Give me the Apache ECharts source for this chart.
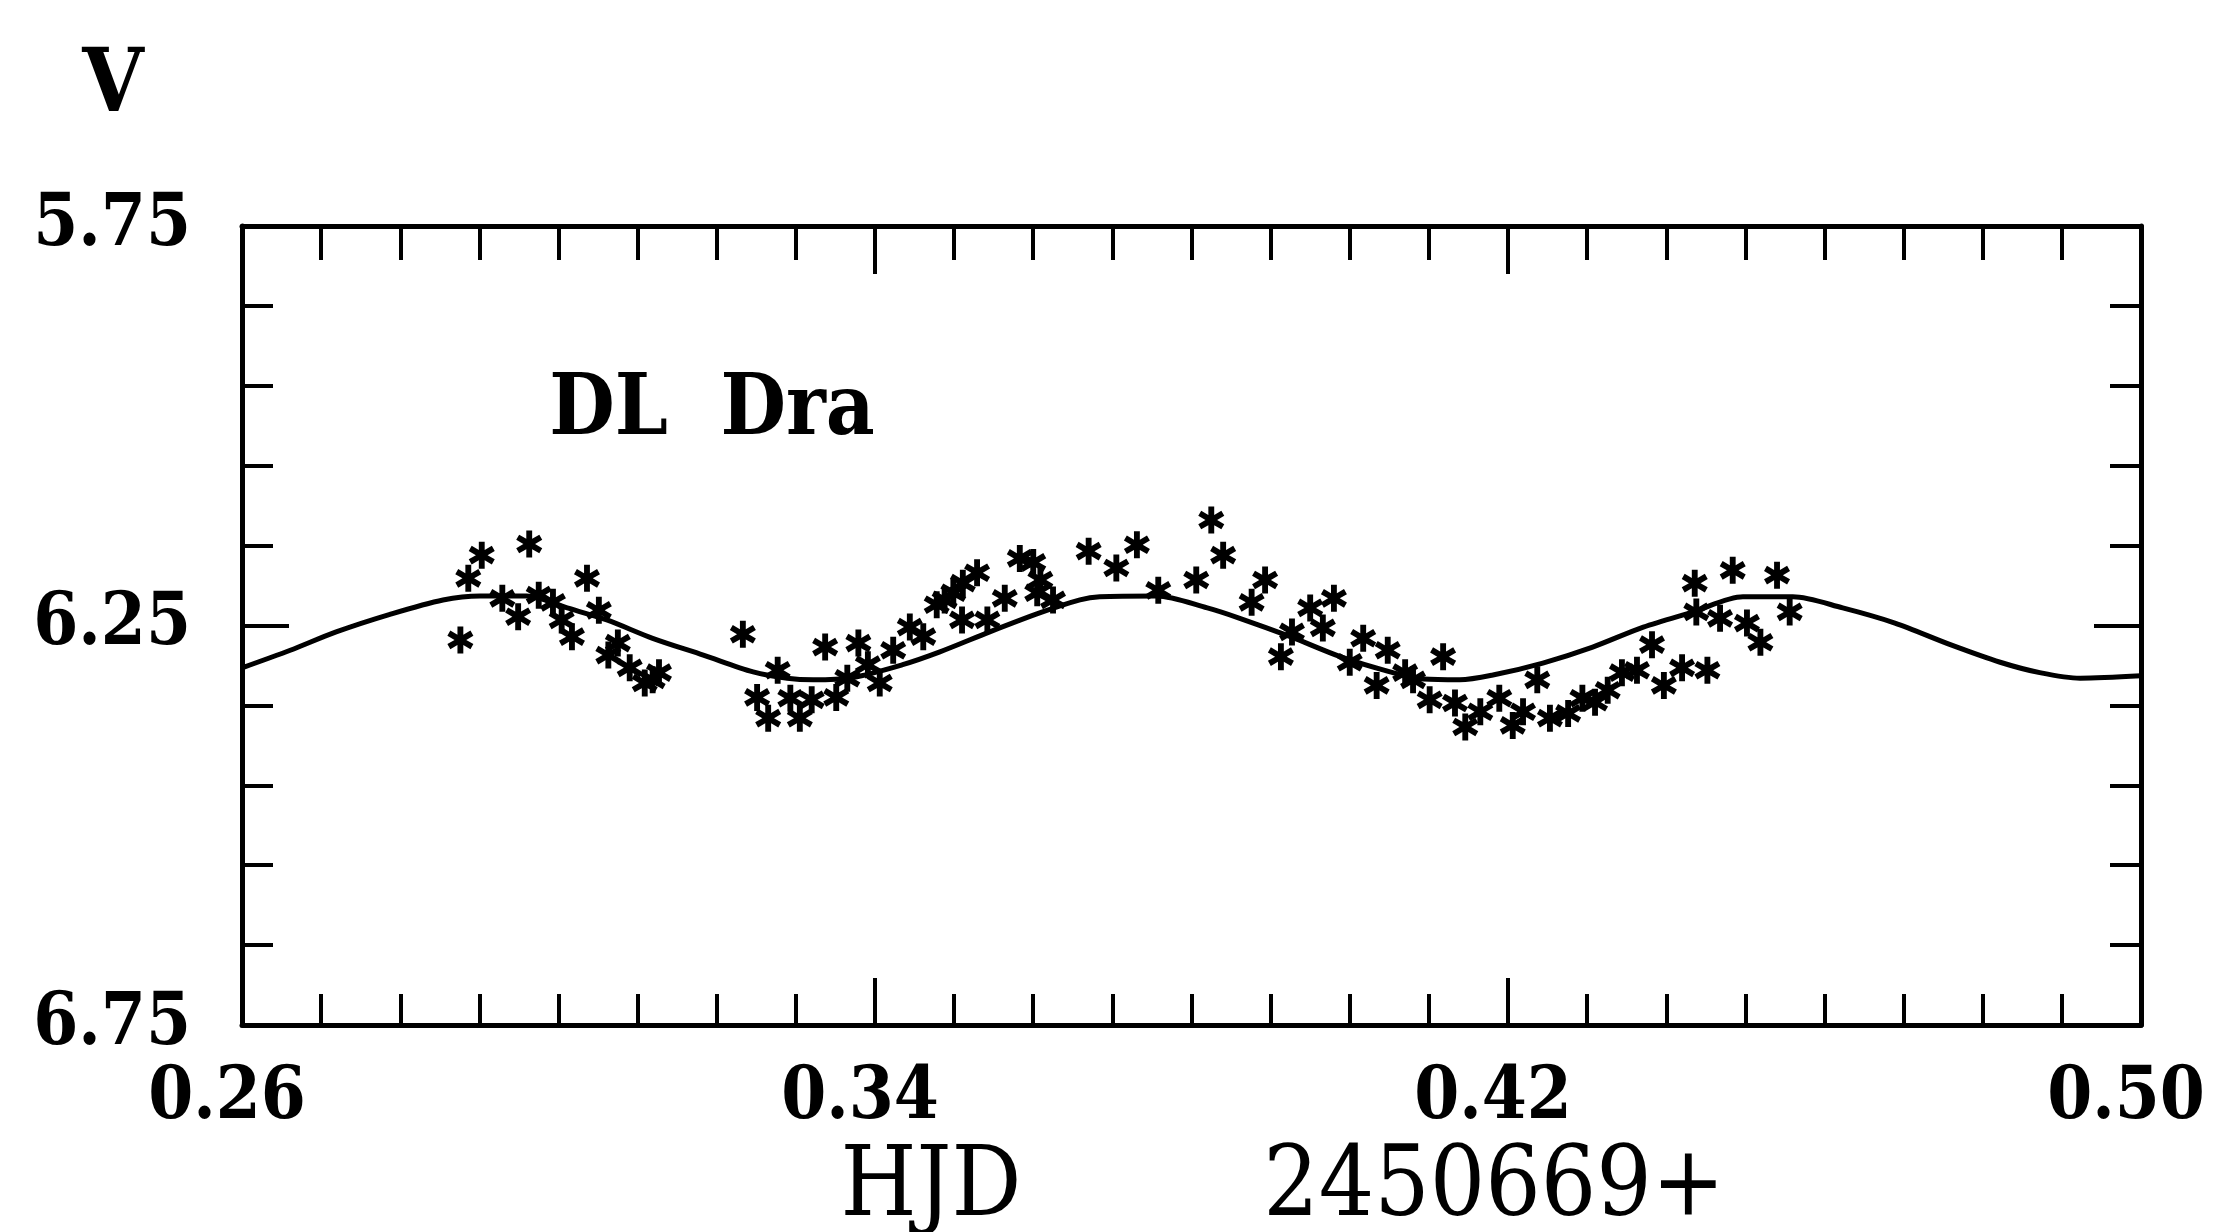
<!DOCTYPE html>
<html>
<head>
<meta charset="utf-8">
<title>DL Dra</title>
<script src="https://cdn.jsdelivr.net/npm/echarts@6/dist/echarts.min.js"></script>
<style>
    html, body { margin: 0; padding: 0; background: #fff; }
    #chart { width: 2223px; height: 1232px; }
</style>
</head>
<body>
<div id="chart"></div>
<script>
// observations (HJD - 2450669, V mag)
const hjdObs = [
    0.2876, 0.2886, 0.2903, 0.2929, 0.2949, 0.2963, 0.2975, 0.2993, 0.3004, 0.3017,
    0.3036, 0.3051, 0.3063, 0.3075, 0.3090, 0.3109, 0.3119, 0.3127, 0.3233, 0.3251,
    0.3265, 0.3277, 0.3293, 0.3305, 0.3320, 0.3337, 0.3351, 0.3365, 0.3379, 0.3391,
    0.3406, 0.3423, 0.3444, 0.3461, 0.3478, 0.3488, 0.3499, 0.3510, 0.3511, 0.3529,
    0.3542, 0.3564, 0.3583, 0.3600, 0.3605, 0.3609, 0.3625, 0.3670, 0.3705, 0.3731,
    0.3758, 0.3806, 0.3825, 0.3840, 0.3876, 0.3893, 0.3913, 0.3927, 0.3950, 0.3966,
    0.3980, 0.4000, 0.4017, 0.4034, 0.4048, 0.4070, 0.4080, 0.4101, 0.4118, 0.4133,
    0.4146, 0.4165, 0.4189, 0.4206, 0.4219, 0.4237, 0.4253, 0.4276, 0.4294, 0.4310,
    0.4326, 0.4344, 0.4363, 0.4382, 0.4397, 0.4420, 0.4436, 0.4438, 0.4452, 0.4468,
    0.4484, 0.4502, 0.4519, 0.4540, 0.4556
];
const vObs = [
    6.268, 6.191, 6.162, 6.216, 6.239, 6.148, 6.212, 6.221, 6.243, 6.264,
    6.191, 6.231, 6.287, 6.272, 6.303, 6.322, 6.318, 6.309, 6.261, 6.340,
    6.366, 6.306, 6.341, 6.366, 6.343, 6.277, 6.340, 6.316, 6.272, 6.299,
    6.322, 6.281, 6.252, 6.264, 6.224, 6.218, 6.209, 6.243, 6.197, 6.184,
    6.243, 6.216, 6.166, 6.171, 6.209, 6.193, 6.218, 6.157, 6.178, 6.149,
    6.206, 6.193, 6.118, 6.162, 6.221, 6.193, 6.289, 6.258, 6.228, 6.253,
    6.216, 6.296, 6.266, 6.325, 6.281, 6.309, 6.318, 6.343, 6.289, 6.347,
    6.377, 6.358, 6.341, 6.375, 6.358, 6.318, 6.366, 6.360, 6.341, 6.346,
    6.331, 6.309, 6.306, 6.274, 6.325, 6.303, 6.197, 6.233, 6.306, 6.241,
    6.181, 6.247, 6.271, 6.187, 6.233
];

// fitted light curve
const hjdFit = [
    0.2600, 0.2661, 0.2719, 0.2787, 0.2854, 0.2901, 0.2960, 0.3011, 0.3061, 0.3119,
    0.3183, 0.3246, 0.3289, 0.3322, 0.3372, 0.3435, 0.3482, 0.3545, 0.3609, 0.3659,
    0.3684, 0.3756, 0.3820, 0.3861, 0.3925, 0.3988, 0.4051, 0.4093, 0.4139, 0.4181,
    0.4244, 0.4307, 0.4371, 0.4434, 0.4497, 0.4560, 0.4623, 0.4689, 0.4759, 0.4822,
    0.4872, 0.4923, 0.5000
];
const vFit = [
    6.303, 6.281, 6.258, 6.236, 6.218, 6.213, 6.213, 6.228, 6.243, 6.266,
    6.287, 6.308, 6.316, 6.318, 6.315, 6.299, 6.283, 6.258, 6.234, 6.218,
    6.214, 6.213, 6.228, 6.241, 6.264, 6.289, 6.308, 6.317, 6.318, 6.312,
    6.297, 6.277, 6.252, 6.233, 6.214, 6.214, 6.228, 6.247, 6.274, 6.296,
    6.309, 6.316, 6.313
];

const xLabelValues = [0.26, 0.34, 0.42, 0.50];
const yLabelValues = [5.75, 6.25, 6.75];

const FONT = '"DejaVu Serif Condensed", "DejaVu Serif", serif';
const BLACK = '#000';

// six-armed asterisk used as the point marker
function starPath() {
    const L = 50, w = 11, pts = [];
    for (let k = 0; k < 6; k++) {
        const a = (90 + 60 * k) * Math.PI / 180;
        const dx = Math.cos(a), dy = Math.sin(a);
        const nx = -dy, ny = dx;
        pts.push([50 + L * dx - w * nx, 50 + L * dy - w * ny]);
        pts.push([50 + L * dx + w * nx, 50 + L * dy + w * ny]);
        const b = a + Math.PI / 6;
        pts.push([50 + 2 * w * Math.cos(b), 50 + 2 * w * Math.sin(b)]);
    }
    return 'path://M' + pts.map(p => p[0].toFixed(2) + ',' + p[1].toFixed(2)).join('L') + 'Z';
}

function isLabel(list, v) {
    return list.some(t => Math.abs(t - v) < 1e-6);
}

function xAxisCfg(position, interval, tickLen, showLine, showLabel) {
    return {
        type: 'value',
        position: position,
        min: 0.26,
        max: 0.50,
        interval: interval,
        axisLine: { show: showLine, onZero: false, lineStyle: { color: BLACK, width: 5 } },
        axisTick: { show: true, inside: true, length: tickLen, lineStyle: { color: BLACK, width: 4 } },
        axisLabel: {
            show: showLabel,
            margin: 38,
            padding: [0, 30, 0, 0],
            color: BLACK,
            fontFamily: FONT,
            fontWeight: 'bold',
            fontSize: 72,
            formatter: v => isLabel(xLabelValues, v) ? v.toFixed(2) : ''
        },
        splitLine: { show: false }
    };
}

function yAxisCfg(position, interval, tickLen, showLine, showLabel) {
    return {
        type: 'value',
        position: position,
        inverse: true,
        min: 5.75,
        max: 6.75,
        interval: interval,
        axisLine: { show: showLine, onZero: false, lineStyle: { color: BLACK, width: 5 } },
        axisTick: { show: true, inside: true, length: tickLen, lineStyle: { color: BLACK, width: 4 } },
        axisLabel: {
            show: showLabel,
            margin: 51,
            color: BLACK,
            fontFamily: FONT,
            fontWeight: 'bold',
            fontSize: 72,
            formatter: v => isLabel(yLabelValues, v) ? v.toFixed(2) : ''
        },
        splitLine: { show: false }
    };
}

const chart = echarts.init(document.getElementById('chart'));

chart.setOption({
    backgroundColor: '#fff',
    animation: false,
    grid: { left: 242, top: 226, right: 82, bottom: 207 },
    xAxis: [
        xAxisCfg('bottom', 0.01, 31, true, false),
        xAxisCfg('bottom', 0.08, 47, false, true),
        xAxisCfg('top', 0.01, 34, true, false),
        xAxisCfg('top', 0.08, 48, false, false)
    ],
    yAxis: [
        yAxisCfg('left', 0.1, 31, true, false),
        yAxisCfg('left', 0.5, 47, false, true),
        yAxisCfg('right', 0.1, 31, true, false),
        yAxisCfg('right', 0.5, 47, false, false)
    ],
    graphic: [
        {
            type: 'text', x: 113, y: 88,
            style: { text: 'V', fill: BLACK, fontFamily: FONT, fontWeight: 'bold', fontSize: 88,
                textAlign: 'center', textVerticalAlign: 'middle' }
        },
        {
            type: 'text', x: 712, y: 412,
            style: { text: 'DL  Dra', fill: BLACK, fontFamily: FONT, fontWeight: 'bold', fontSize: 84,
                textAlign: 'center', textVerticalAlign: 'middle' }
        },
        {
            type: 'text', x: 931, y: 1190,
            style: { text: 'HJD', fill: BLACK, fontFamily: FONT, fontSize: 97,
                textAlign: 'center', textVerticalAlign: 'middle' }
        },
        {
            type: 'text', x: 1494, y: 1190,
            style: { text: '2450669+', fill: BLACK, fontFamily: FONT, fontSize: 97,
                textAlign: 'center', textVerticalAlign: 'middle' }
        }
    ],
    series: [
        {
            type: 'line',
            xAxisIndex: 0,
            yAxisIndex: 0,
            data: hjdFit.map((x, i) => [x, vFit[i]]),
            smooth: 0.3,
            showSymbol: false,
            lineStyle: { color: BLACK, width: 5 }
        },
        {
            type: 'scatter',
            xAxisIndex: 0,
            yAxisIndex: 0,
            data: hjdObs.map((x, i) => [x, vObs[i]]),
            symbol: starPath(),
            symbolSize: [26, 27],
            itemStyle: { color: BLACK, opacity: 1 }
        }
    ]
});
</script>
</body>
</html>
